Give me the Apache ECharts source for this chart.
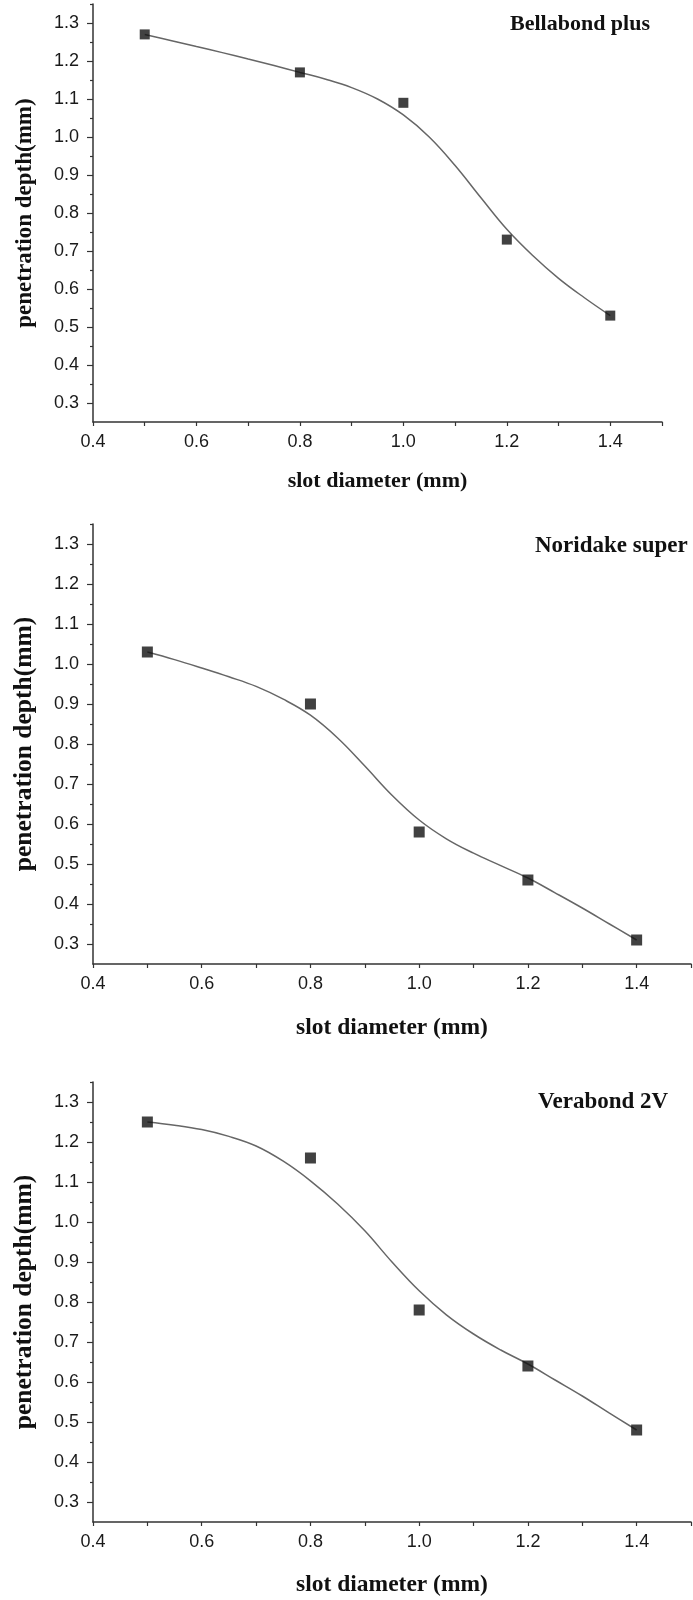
<!DOCTYPE html>
<html>
<head>
<meta charset="utf-8">
<script src="https://cdn.jsdelivr.net/npm/echarts@6/dist/echarts.min.js"></script>
<style>
html,body{margin:0;padding:0;background:#fff;}
#chart{width:693px;height:1600px;}
</style>
</head>
<body>
<div id="chart"></div>
<script>
// ---- data ----
const panelTitles = ['Bellabond plus', 'Noridake super', 'Verabond 2V'];
const xValues = [0.5, 0.8, 1.0, 1.2, 1.4];
const bellabond = [1.27, 1.17, 1.09, 0.73, 0.53];
const noridake = [1.03, 0.90, 0.58, 0.46, 0.31];
const verabond = [1.25, 1.16, 0.78, 0.64, 0.48];

// fitted curves
const fitX = [0.5, 0.55, 0.6, 0.65, 0.7, 0.75, 0.8, 0.85, 0.9, 0.95, 1.0, 1.05, 1.1, 1.15, 1.2, 1.25, 1.3, 1.35, 1.4];
const bellabondFit = [1.27, 1.254, 1.238, 1.222, 1.205, 1.188, 1.17, 1.152, 1.13, 1.10, 1.058, 1.0, 0.925, 0.84, 0.757, 0.688, 0.628, 0.577, 0.53];
const noridakeFit = [1.03, 1.011, 0.99, 0.968, 0.944, 0.912, 0.872, 0.815, 0.745, 0.672, 0.61, 0.563, 0.527, 0.496, 0.465, 0.428, 0.39, 0.35, 0.31];
const verabondFit = [1.25, 1.242, 1.231, 1.214, 1.19, 1.152, 1.103, 1.045, 0.978, 0.90, 0.828, 0.768, 0.72, 0.68, 0.645, 0.605, 0.565, 0.522, 0.48];

// tick labels
const xTickLabels = [0.4, 0.6, 0.8, 1.0, 1.2, 1.4];
const xTicks = [0.4, 0.5, 0.6, 0.7, 0.8, 0.9, 1.0, 1.1, 1.2, 1.3, 1.4, 1.5];
const yTickLabels = [0.3, 0.4, 0.5, 0.6, 0.7, 0.8, 0.9, 1.0, 1.1, 1.2, 1.3];
const yMinorTicks = [0.35, 0.45, 0.55, 0.65, 0.75, 0.85, 0.95, 1.05, 1.15, 1.25, 1.35];
const xName = 'slot diameter (mm)';
const yName = 'penetration depth(mm)';

// ---- layout ----
const grids = [
  {left: 93, top: 4, width: 569, height: 418},
  {left: 93, top: 524, width: 598, height: 440},
  {left: 93, top: 1082, width: 598, height: 440}
];
const titlePos = [{left: 510, top: 13}, {left: 535, top: 535}, {left: 538, top: 1091}];
const titleSize = [22, 23, 23];
const xNameSize = [22, 23.5, 23.5];
const xNameGap = [48, 52, 51];
const yNameSize = [23, 25.5, 25.5];
const points = [bellabond, noridake, verabond];
const fits = [bellabondFit, noridakeFit, verabondFit];

const axisColor = '#333';
const serif = '"Liberation Serif", "DejaVu Serif", serif';
const sans = '"Liberation Sans", Arial, sans-serif';

const option = {
  animation: false,
  backgroundColor: '#fff',
  grid: grids.map(g => Object.assign({containLabel: false}, g)),
  title: panelTitles.map((t, i) => ({
    text: t, left: titlePos[i].left, top: titlePos[i].top,
    padding: 0,
    textStyle: {fontFamily: serif, fontWeight: 'bold', fontSize: titleSize[i], color: '#111'}
  })),
  xAxis: [],
  yAxis: [],
  series: []
};

grids.forEach((g, i) => {
  option.xAxis.push({
    type: 'value', gridIndex: i, min: 0.4, max: 1.5,
    name: xName, nameLocation: 'middle', nameGap: xNameGap[i],
    nameTextStyle: {fontFamily: serif, fontWeight: 'bold', fontSize: xNameSize[i], color: '#111'},
    axisLine: {show: true, onZero: false, lineStyle: {color: axisColor, width: 1.5}},
    axisTick: {show: true, inside: false, length: 4, customValues: xTicks, lineStyle: {color: axisColor, width: 1.2}},
    axisLabel: {customValues: xTickLabels, margin: 11, fontFamily: sans, fontSize: 18, color: '#1a1a1a',
      formatter: v => v.toFixed(1)},
    splitLine: {show: false}
  });
  option.yAxis.push({
    type: 'value', gridIndex: i, min: 0.25, max: 1.35,
    name: yName, nameLocation: 'middle', nameGap: 56, nameRotate: 90,
    nameTextStyle: {fontFamily: serif, fontWeight: 'bold', fontSize: yNameSize[i], color: '#111'},
    axisLine: {show: true, onZero: false, lineStyle: {color: axisColor, width: 1.5}},
    axisTick: {show: true, inside: false, length: 6, customValues: yTickLabels, lineStyle: {color: axisColor, width: 1.2}},
    axisLabel: {customValues: yTickLabels, margin: 14, fontFamily: sans, fontSize: 18, color: '#1a1a1a',
      formatter: v => v.toFixed(1)},
    splitLine: {show: false}
  });
  // minor y ticks (overlay axis)
  option.yAxis.push({
    type: 'value', gridIndex: i, min: 0.25, max: 1.35, position: 'left',
    axisLine: {show: false},
    axisTick: {show: true, inside: false, length: 3, customValues: yMinorTicks, lineStyle: {color: axisColor, width: 1.2}},
    axisLabel: {show: false},
    splitLine: {show: false}
  });
});

grids.forEach((g, i) => {
  option.series.push({
    type: 'line', xAxisIndex: i, yAxisIndex: i * 2,
    data: fitX.map((x, k) => [x, fits[i][k]]),
    smooth: 0.4, showSymbol: false, symbol: 'none',
    lineStyle: {color: '#666', width: 1.5}, z: 2
  });
  option.series.push({
    type: 'scatter', xAxisIndex: i, yAxisIndex: i * 2,
    data: xValues.map((x, k) => [x, points[i][k]]),
    symbol: 'rect', symbolSize: i === 0 ? 10 : 11,
    itemStyle: {color: '#111'}, z: 3
  });
});

const chart = echarts.init(document.getElementById('chart'), null, {renderer: 'canvas'});
chart.setOption(option);
</script>
</body>
</html>
